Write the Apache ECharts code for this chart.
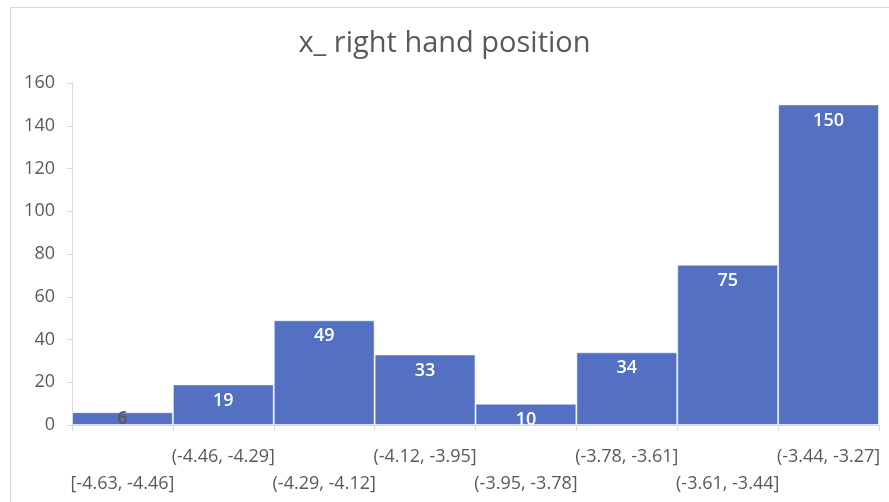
<!DOCTYPE html>
<html>
<head>
<meta charset="utf-8">
<script src="https://cdn.jsdelivr.net/npm/echarts@6/dist/echarts.min.js"></script>
<style>
  html, body { margin: 0; padding: 0; background: #ffffff; }
  #chart { width: 889px; height: 502px; }
</style>
</head>
<body>
<div id="chart"></div>
<script>
// Histogram bins of the right-hand x position and their counts
const binLabels = [
  '[-4.63, -4.46]', '(-4.46, -4.29]', '(-4.29, -4.12]', '(-4.12, -3.95]',
  '(-3.95, -3.78]', '(-3.78, -3.61]', '(-3.61, -3.44]', '(-3.44, -3.27]'
];
const binCounts = [6, 19, 49, 33, 10, 34, 75, 150];
const yTicks = { min: 0, max: 160, step: 20 };
const titleText = 'x_ right hand position';

const FONT = '"Open Sans", "Noto Sans", sans-serif';
const TEXT = '#595959';
const BAR = '#5470C2';

// Short bars can't hold a white label, so those sit centred in dark text
const barData = binCounts.map(v => {
  if (v < 8) {
    return { value: v, label: { position: 'inside', color: TEXT } };
  }
  return v;
});

const chart = echarts.init(document.getElementById('chart'), null, { renderer: 'canvas' });
chart.setOption({
  backgroundColor: '#ffffff',
  animation: false,
  title: {
    text: titleText,
    left: 'center',
    top: 24,
    textStyle: { fontFamily: FONT, fontSize: 29, fontWeight: 'normal', color: TEXT }
  },
  graphic: [{
    type: 'rect',
    shape: { x: 10.5, y: 7.5, width: 920, height: 560 },
    style: { fill: 'none', stroke: '#d9d9d9', lineWidth: 1 },
    silent: true
  }],
  grid: { left: 72, right: 10, top: 83, bottom: 77, containLabel: false },
  xAxis: {
    type: 'category',
    data: binLabels,
    axisLine: { lineStyle: { color: '#d9d9d9', width: 1 } },
    axisTick: { show: true, length: 6, lineStyle: { color: '#d9d9d9' } },
    axisLabel: {
      interval: 0,
      margin: 18,
      fontFamily: FONT,
      fontSize: 18,
      lineHeight: 27,
      color: TEXT,
      // stagger: even bins drop to the second row
      formatter: (v, i) => (i % 2 === 0 ? '\n' + v : v)
    },
    splitLine: { show: false }
  },
  yAxis: {
    type: 'value',
    min: yTicks.min,
    max: yTicks.max,
    interval: yTicks.step,
    axisLine: { show: true, lineStyle: { color: '#d9d9d9', width: 1 } },
    axisTick: { show: true, length: 5, lineStyle: { color: '#d9d9d9' } },
    axisLabel: { margin: 17, fontFamily: FONT, fontSize: 18, color: TEXT },
    splitLine: { show: false }
  },
  series: [{
    type: 'bar',
    data: barData,
    barCategoryGap: 0,
    itemStyle: { color: BAR, borderColor: 'rgba(255,255,255,0.55)', borderWidth: 1 },
    label: {
      show: true,
      position: 'insideTop',
      distance: 7,
      fontFamily: FONT,
      fontSize: 18,
      fontWeight: 600,
      color: '#ffffff'
    }
  }]
});
</script>
</body>
</html>
